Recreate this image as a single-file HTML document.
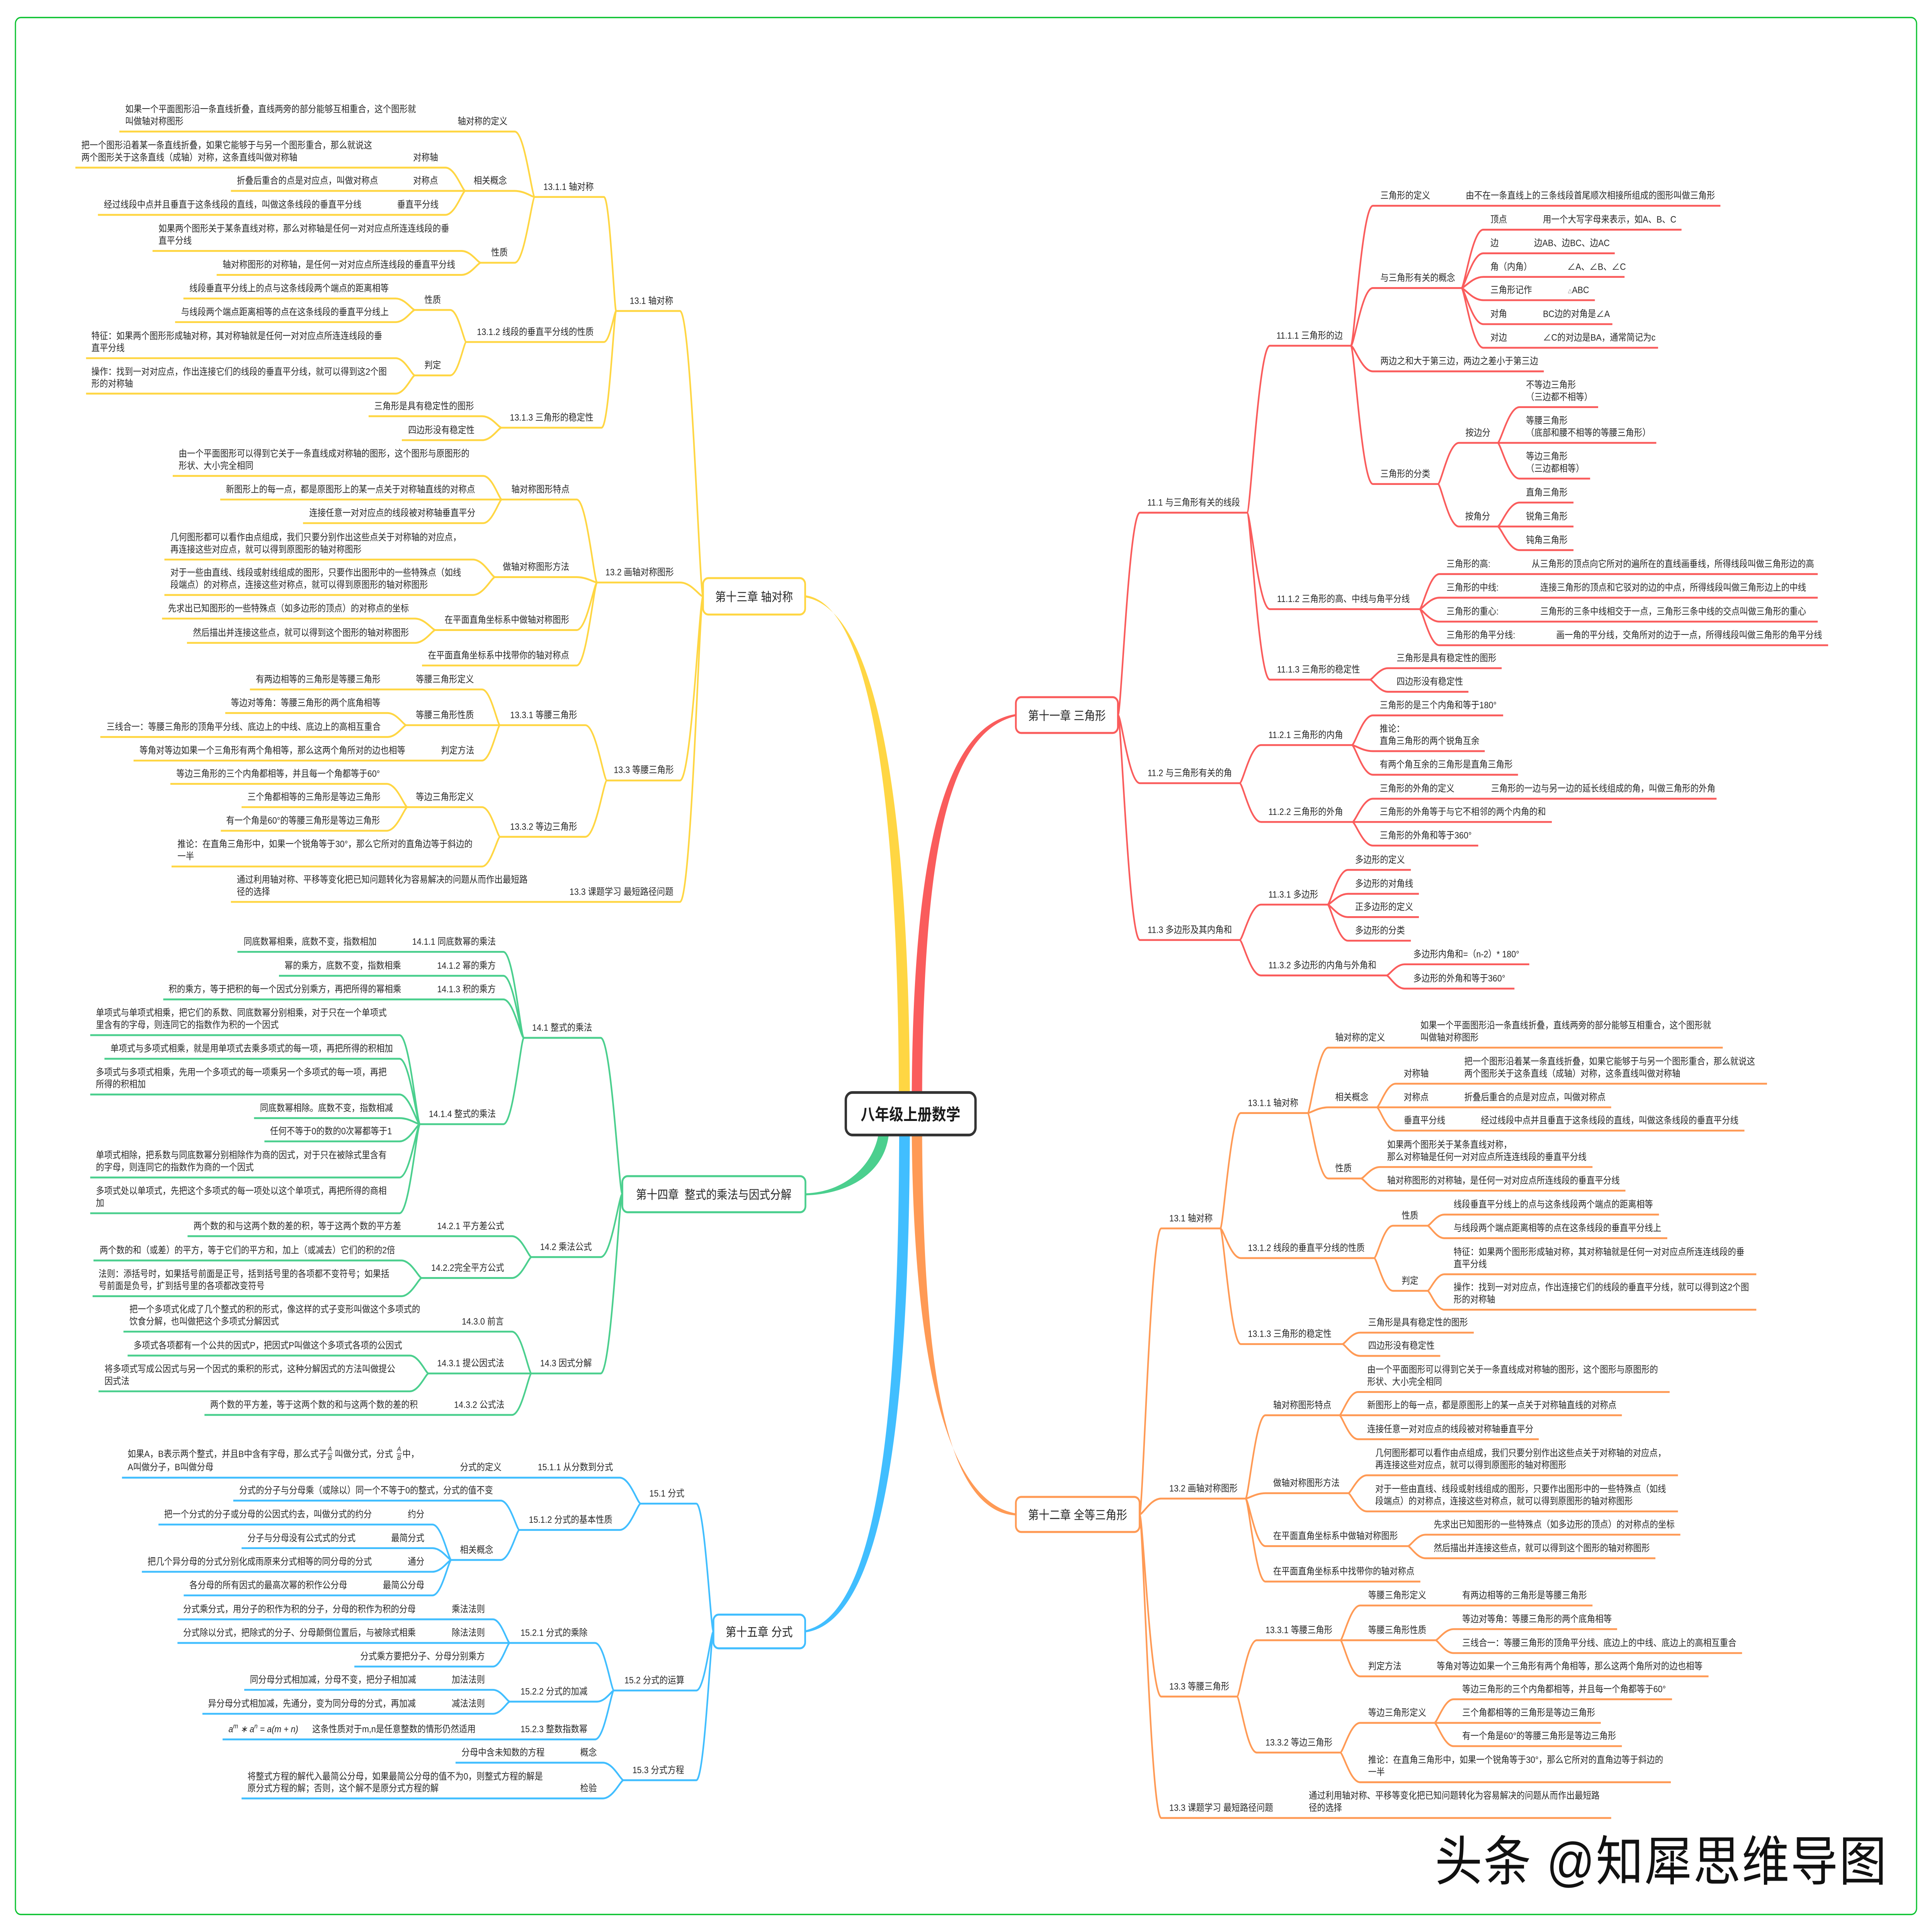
<!DOCTYPE html>
<html lang="zh"><head><meta charset="utf-8"><title>八年级上册数学</title>
<style>
html,body{margin:0;padding:0;background:#fff;width:100%;height:100%;overflow:hidden}
svg{display:block;width:100vw;height:100vh}
text{font-family:"Liberation Sans","Noto Sans CJK SC",sans-serif;font-size:28px;fill:#262626}
.l{fill:none;stroke-width:5.5}
.ch{font-size:36px;text-anchor:middle}
.box{fill:#fff;stroke-width:6}
</style></head><body>
<svg xmlns="http://www.w3.org/2000/svg" viewBox="0 0 6510 5728" preserveAspectRatio="none">
<rect width="6510" height="5728" fill="#fff"/>
<rect x="52" y="52" width="6406" height="5624" rx="18" fill="none" stroke="#0AC22F" stroke-width="4"/>

<!-- main branches -->
<path fill="#FFD643" d="M3029 3300C3029 2350 2930 1790 2713 1765L2713 1771C2950 1805 3066 2350 3066 3300Z"/>
<path fill="#FA5C5C" d="M3072 3300C3072 2500 3190 2150 3423 2117L3423 2123C3200 2170 3107 2500 3107 3300Z"/>
<path fill="#4BCF8E" d="M2962 3350C2950 3450 2850 3535 2714 3538L2714 3544C2870 3540 2990 3470 2996 3350Z"/>
<path fill="#41BEFF" d="M3030 3300C3030 4200 2960 4790 2711 4834L2711 4840C2980 4810 3066 4200 3066 3300Z"/>
<path fill="#FF9A55" d="M3072 3300C3072 4000 3180 4450 3423 4487L3423 4493C3170 4480 3107 4000 3107 3300Z"/>

<!-- yellow -->
<path class="l" stroke="#FFD643" d="M2076 922H2291c39 0 66 846 78 846M2012 1727H2291c39 0 66 41 78 41M2045 2314H2291c39 0 66-546 78-546M778 2674H2291c39 0 66-906 78-906
M1802 584H2035c20 0 35 338 41 338M1571 1014H2035c20 0 35-92 41-92M1690 1268H2027c25 0 42-346 49-346
M402 390H1734c34 0 58 194 68 194M1568 566H1734c34 0 58 18 68 18M1620 779H1734c34 0 58-195 68-195
M254 497H1501c33 0 57 69 67 69M778 566H1568M330 637H1501c33 0 57-71 67-71
M514 744H1555c32 0 55 35 65 35M730 815H1555c32 0 55-36 65-36
M1398 919H1517c27 0 46 95 54 95M1398 1113H1517c27 0 46-99 54-99
M618 885H1333c32 0 55 34 65 34M590 955H1333c32 0 55-36 65-36M290 1062H1333c32 0 55 51 65 51M290 1167H1333c32 0 55-54 65-54
M1242 1234H1625c32 0 55 34 65 34M1354 1305H1625c32 0 55-37 65-37
M1691 1481H1943c34 0 59 246 69 246M1668 1711H1943c34 0 59 16 69 16M1467 1868H1943c34 0 59-141 69-141M1422 1973H1943c34 0 59-246 69-246
M582 1411H1628c31 0 54 70 63 70M742 1481H1691M1021 1551H1628c31 0 54-70 63-70
M554 1659H1593c37 0 64 52 75 52M554 1764H1593c37 0 64-53 75-53
M546 1834H1398c34 0 59 34 69 34M630 1906H1398c34 0 59-38 69-38
M1685 2150H1972c36 0 62 164 73 164M1685 2481H1972c36 0 62-167 73-167
M842 2044H1624c30 0 52 106 61 106M1369 2150H1685M450 2255H1624c30 0 52-105 61-105
M759 2114H1306c31 0 54 36 63 36M338 2185H1306c31 0 54-35 63-35
M1373 2393H1624c30 0 52 88 61 88M578 2569H1624c30 0 52-88 61-88
M574 2324H1303c35 0 60 69 70 69M814 2393H1373M744 2463H1303c35 0 60-70 70-70"/>

<!-- green -->
<path class="l" stroke="#4BCF8E" d="M1765 3077H2024c36 0 62 463 73 463M1791 3727H2024c36 0 62-187 73-187M1791 4072H2024c36 0 62-532 73-532
M800 2822H1696c34 0 59 255 69 255M940 2893H1696c34 0 59 184 69 184M550 2963H1696c34 0 59 114 69 114M1415 3333H1696c34 0 59-256 69-256
M304 3069H1346c34 0 59 264 69 264M352 3139H1346c34 0 59 194 69 194M304 3245H1346c34 0 59 88 69 88M856 3315H1346c34 0 59 18 69 18M891 3384H1346c34 0 59-51 69-51M304 3491H1346c34 0 59-158 69-158M304 3597H1346c34 0 59-264 69-264
M632 3665H1725c33 0 56 62 66 62M1421 3789H1725c33 0 56-62 66-62
M315 3737H1352c34 0 59 52 69 52M312 3843H1352c34 0 59-54 69-54
M416 3948H1725c33 0 56 124 66 124M1444 4072H1791M689 4195H1725c33 0 56-123 66-123
M430 4019H1381c31 0 54 53 63 53M332 4125H1381c31 0 54-53 63-53"/>

<!-- blue -->
<path class="l" stroke="#41BEFF" d="M2159 4458H2346c29 0 49 379 58 379M2069 5012H2346c29 0 49-175 58-175M2101 5278H2346c29 0 49-441 58-441
M411 4381H2088c35 0 60 77 71 77M1750 4536H2088c35 0 60-78 71-78
M786 4449H1687c31 0 54 87 63 87M1521 4625H1687c31 0 54-89 63-89
M534 4520H1457c32 0 54 105 64 105M814 4590H1457c32 0 54 35 64 35M478 4660H1457c32 0 54-35 64-35M619 4730H1457c32 0 54-105 64-105
M1718 4871H2005c32 0 54 141 64 141M1718 5045H2012c28 0 49-33 57-33M750 5157H2005c32 0 54-145 64-145
M598 4801H1661c28 0 48 70 57 70M598 4871H1718M1194 4941H1661c28 0 48-70 57-70
M823 5010H1661c28 0 48 35 57 35M682 5081H1661c28 0 48-36 57-36
M1535 5226H2031c35 0 60 52 70 52M814 5332H2031c35 0 60-54 70-54"/>

<!-- red -->
<path class="l" stroke="#FA5C5C" d="M4202 1520H3841c-37 0-63 600-74 600M4177 2322H3841c-37 0-63-202-74-202M4177 2787H3841c-37 0-63-667-74-667
M4552 1025H4279c-38 0-65 495-77 495M4783 1806H4279c-38 0-65-286-77-286M4616 2015H4279c-38 0-65-495-77-495
M5797 610H4626c-37 0-63 415-74 415M4924 854H4626c-37 0-63 171-74 171M5202 1101H4626c-37 0-63-76-74-76M4845 1435H4626c-37 0-63-410-74-410
M5666 681H4998c-37 0-63 173-74 173M5441 751H4998c-37 0-63 103-74 103M5474 821H4998c-37 0-63 33-74 33M5374 890H4998c-37 0-63-36-74-36M5433 961H4998c-37 0-63-107-74-107M5587 1031H4998c-37 0-63-177-74-177
M5046 1313H4916c-35 0-60 122-71 122M5046 1561H4916c-35 0-60-126-71-126
M5385 1207H5120c-37 0-63 106-74 106M5581 1313H5046M5358 1419H5120c-37 0-63-106-74-106
M5302 1490H5120c-37 0-63 71-74 71M5302 1561H5046M5302 1631H5120c-37 0-63-70-74-70
M6125 1702H4850c-33 0-57 104-67 104M6125 1772H4850c-33 0-57 34-67 34M6125 1843H4850c-33 0-57-37-67-37M6160 1913H4850c-33 0-57-107-67-107
M5060 1981H4677c-30 0-52 34-61 34M4948 2051H4677c-30 0-52-36-61-36
M4555 2209H4249c-36 0-61 113-72 113M4557 2437H4249c-36 0-61-115-72-115
M5065 2121H4626c-35 0-60 88-71 88M5003 2227H4626c-35 0-60-18-71-18M5115 2297H4626c-35 0-60-88-71-88
M5784 2368H4626c-34 0-59 69-69 69M5229 2437H4557M4981 2507H4626c-34 0-59-70-69-70
M4473 2682H4249c-36 0-61 105-72 105M4672 2892H4249c-36 0-61-105-72-105
M4754 2579H4542c-34 0-59 103-69 103M4781 2650H4542c-34 0-59 32-69 32M4781 2719H4542c-34 0-59-37-69-37M4754 2789H4542c-34 0-59-107-69-107
M5153 2859H4733c-30 0-52 33-61 33M5103 2931H4733c-30 0-52-39-61-39"/>

<!-- orange -->
<path class="l" stroke="#FF9A55" d="M4112 3642H3913c-36 0-62 848-73 848M4197 4443H3913c-36 0-62 47-73 47M4168 5030H3913c-36 0-62-540-73-540M5429 5390H3913c-36 0-62-900-73-900
M4406 3300H4181c-34 0-59 342-69 342M4630 3730H4181c-34 0-59-88-69-88M4523 3985H4181c-34 0-59-343-69-343
M5805 3106H4476c-35 0-60 194-70 194M4639 3283H4476c-35 0-60 17-70 17M4586 3494H4476c-35 0-60-194-70-194
M5954 3213H4703c-32 0-54 70-64 70M5429 3283H4639M5878 3352H4703c-32 0-54-69-64-69
M5366 3460H4650c-32 0-54 34-64 34M5477 3530H4650c-32 0-54-36-64-36
M4810 3634H4694c-32 0-54 96-64 96M4810 3827H4694c-32 0-54-97-64-97
M5590 3601H4867c-28 0-48 33-57 33M5618 3671H4867c-28 0-48-37-57-37
M5918 3778H4867c-28 0-48 49-57 49M5918 3883H4867c-28 0-48-56-57-56
M4966 3951H4583c-30 0-51 34-60 34M4853 4020H4583c-30 0-51-35-60-35
M4513 4196H4264c-33 0-57 247-67 247M4543 4427H4264c-33 0-57 16-67 16M4744 4584H4264c-33 0-57-141-67-141M4786 4689H4264c-33 0-57-246-67-246
M5626 4127H4576c-31 0-54 69-63 69M5465 4196H4513M5185 4267H4576c-31 0-54-71-63-71
M5654 4374H4606c-31 0-54 53-63 53M5654 4481H4606c-31 0-54-54-63-54
M5662 4550H4804c-30 0-51 34-60 34M5578 4620H4804c-30 0-51-36-60-36
M4516 4863H4235c-33 0-57 167-67 167M4516 5196H4235c-33 0-57-166-67-166
M5366 4760H4583c-33 0-57 103-67 103M4837 4863H4516M5757 4970H4583c-33 0-57-107-67-107
M5449 4830H4898c-30 0-52 33-61 33M5870 4901H4898c-30 0-52-38-61-38
M4833 5108H4583c-33 0-57 88-67 88M5630 5284H4583c-33 0-57-88-67-88
M5634 5038H4898c-32 0-55 70-65 70M5394 5108H4833M5465 5177H4898c-32 0-55-69-65-69"/>

<!-- boxes -->
<rect class="box" stroke="#FFD643" x="2369" y="1714" width="344" height="108" rx="18"/>
<rect class="box" stroke="#FA5C5C" x="3423" y="2067" width="344" height="106" rx="18"/>
<rect class="box" stroke="#4BCF8E" x="2097" y="3487" width="617" height="107" rx="18"/>
<rect class="box" stroke="#41BEFF" x="2404" y="4787" width="309" height="100" rx="18"/>
<rect class="box" stroke="#FF9A55" x="3423" y="4438" width="417" height="104" rx="18"/>
<rect x="2850" y="3239" width="437" height="126" rx="22" fill="#fff" stroke="#333" stroke-width="8"/>
<text x="3068" y="3321" text-anchor="middle" style="font-size:48px;font-weight:bold;fill:#1a1a1a">八年级上册数学</text>
<text class="ch" x="2541" y="1782">第十三章 轴对称</text>
<text class="ch" x="3595" y="2134">第十一章 三角形</text>
<text class="ch" x="2405" y="3554">第十四章&#160;&#160;整式的乘法与因式分解</text>
<text class="ch" x="2558" y="4851">第十五章 分式</text>
<text class="ch" x="3631" y="4504">第十二章 全等三角形</text>

<!-- chapter 13 text -->
<text x="2122" y="901">13.1 轴对称</text>
<text x="1831" y="563">13.1.1 轴对称</text>
<text x="422" y="333">如果一个平面图形沿一条直线折叠，直线两旁的部分能够互相重合，这个图形就</text>
<text x="422" y="369">叫做轴对称图形</text>
<text x="1542" y="369">轴对称的定义</text>
<text x="274" y="440">把一个图形沿着某一条直线折叠，如果它能够于与另一个图形重合，那么就说这</text>
<text x="274" y="476">两个图形关于这条直线（成轴）对称，这条直线叫做对称轴</text>
<text x="1392" y="476">对称轴</text>
<text x="798" y="545">折叠后重合的点是对应点，叫做对称点</text>
<text x="1392" y="545">对称点</text>
<text x="1596" y="545">相关概念</text>
<text x="350" y="616">经过线段中点并且垂直于这条线段的直线，叫做这条线段的垂直平分线</text>
<text x="1338" y="616">垂直平分线</text>
<text x="534" y="687">如果两个图形关于某条直线对称，那么对称轴是任何一对对应点所连连线段的垂</text>
<text x="534" y="723">直平分线</text>
<text x="750" y="794">轴对称图形的对称轴，是任何一对对应点所连线段的垂直平分线</text>
<text x="1655" y="758">性质</text>
<text x="1607" y="993">13.1.2 线段的垂直平分线的性质</text>
<text x="1430" y="898">性质</text>
<text x="638" y="864">线段垂直平分线上的点与这条线段两个端点的距离相等</text>
<text x="610" y="934">与线段两个端点距离相等的点在这条线段的垂直平分线上</text>
<text x="1430" y="1092">判定</text>
<text x="308" y="1005">特征：如果两个图形形成轴对称，其对称轴就是任何一对对应点所连连线段的垂</text>
<text x="308" y="1041">直平分线</text>
<text x="308" y="1111">操作：找到一对对应点，作出连接它们的线段的垂直平分线，就可以得到这2个图</text>
<text x="308" y="1147">形的对称轴</text>
<text x="1718" y="1247">13.1.3 三角形的稳定性</text>
<text x="1261" y="1213">三角形是具有稳定性的图形</text>
<text x="1375" y="1284">四边形没有稳定性</text>
<text x="2040" y="1706">13.2 画轴对称图形</text>
<text x="1723" y="1460">轴对称图形特点</text>
<text x="602" y="1354">由一个平面图形可以得到它关于一条直线成对称轴的图形，这个图形与原图形的</text>
<text x="602" y="1390">形状、大小完全相同</text>
<text x="761" y="1460">新图形上的每一点，都是原图形上的某一点关于对称轴直线的对称点</text>
<text x="1042" y="1530">连接任意一对对应点的线段被对称轴垂直平分</text>
<text x="1694" y="1690">做轴对称图形方法</text>
<text x="574" y="1602">几何图形都可以看作由点组成，我们只要分别作出这些点关于对称轴的对应点，</text>
<text x="574" y="1638">再连接这些对应点，就可以得到原图形的轴对称图形</text>
<text x="574" y="1707">对于一些由直线、线段或射线组成的图形，只要作出图形中的一些特殊点（如线</text>
<text x="574" y="1743">段端点）的对称点，连接这些对称点，就可以得到原图形的轴对称图形</text>
<text x="1498" y="1847">在平面直角坐标系中做轴对称图形</text>
<text x="566" y="1813">先求出已知图形的一些特殊点（如多边形的顶点）的对称点的坐标</text>
<text x="650" y="1885">然后描出并连接这些点，就可以得到这个图形的轴对称图形</text>
<text x="1442" y="1952">在平面直角坐标系中找带你的轴对称点</text>
<text x="2068" y="2292">13.3 等腰三角形</text>
<text x="1719" y="2129">13.3.1 等腰三角形</text>
<text x="862" y="2023">有两边相等的三角形是等腰三角形</text>
<text x="1401" y="2023">等腰三角形定义</text>
<text x="1401" y="2129">等腰三角形性质</text>
<text x="778" y="2093">等边对等角：等腰三角形的两个底角相等</text>
<text x="359" y="2164">三线合一：等腰三角形的顶角平分线、底边上的中线、底边上的高相互重合</text>
<text x="470" y="2234">等角对等边如果一个三角形有两个角相等，那么这两个角所对的边也相等</text>
<text x="1486" y="2234">判定方法</text>
<text x="1719" y="2460">13.3.2 等边三角形</text>
<text x="1401" y="2372">等边三角形定义</text>
<text x="594" y="2303">等边三角形的三个内角都相等，并且每一个角都等于60°</text>
<text x="834" y="2372">三个角都相等的三角形是等边三角形</text>
<text x="762" y="2442">有一个角是60°的等腰三角形是等边三角形</text>
<text x="598" y="2512">推论：在直角三角形中，如果一个锐角等于30°，那么它所对的直角边等于斜边的</text>
<text x="598" y="2548">一半</text>
<text x="798" y="2617">通过利用轴对称、平移等变化把已知问题转化为容易解决的问题从而作出最短路</text>
<text x="798" y="2653">径的选择</text>
<text x="1919" y="2653">13.3 课题学习 最短路径问题</text>

<!-- chapter 14 text -->
<text x="1793" y="3056">14.1 整式的乘法</text>
<text x="821" y="2801">同底数幂相乘，底数不变，指数相加</text>
<text x="1389" y="2801">14.1.1 同底数幂的乘法</text>
<text x="959" y="2872">幂的乘方，底数不变，指数相乘</text>
<text x="1473" y="2872">14.1.2 幂的乘方</text>
<text x="568" y="2942">积的乘方，等于把积的每一个因式分别乘方，再把所得的幂相乘</text>
<text x="1473" y="2942">14.1.3 积的乘方</text>
<text x="1445" y="3312">14.1.4 整式的乘法</text>
<text x="323" y="3012">单项式与单项式相乘，把它们的系数、同底数幂分别相乘，对于只在一个单项式</text>
<text x="323" y="3048">里含有的字母，则连同它的指数作为积的一个因式</text>
<text x="372" y="3118">单项式与多项式相乘，就是用单项式去乘多项式的每一项，再把所得的积相加</text>
<text x="323" y="3188">多项式与多项式相乘，先用一个多项式的每一项乘另一个多项式的每一项，再把</text>
<text x="323" y="3224">所得的积相加</text>
<text x="876" y="3294">同底数幂相除。底数不变，指数相减</text>
<text x="910" y="3363">任何不等于0的数的0次幂都等于1</text>
<text x="323" y="3434">单项式相除，把系数与同底数幂分别相除作为商的因式，对于只在被除式里含有</text>
<text x="323" y="3470">的字母，则连同它的指数作为商的一个因式</text>
<text x="323" y="3540">多项式处以单项式，先把这个多项式的每一项处以这个单项式，再把所得的商相</text>
<text x="323" y="3576">加</text>
<text x="1820" y="3706">14.2 乘法公式</text>
<text x="652" y="3644">两个数的和与这两个数的差的积，等于这两个数的平方差</text>
<text x="1473" y="3644">14.2.1 平方差公式</text>
<text x="1453" y="3768">14.2.2完全平方公式</text>
<text x="336" y="3716">两个数的和（或差）的平方，等于它们的平方和，加上（或减去）它们的积的2倍</text>
<text x="332" y="3786">法则：添括号时，如果括号前面是正号，括到括号里的各项都不变符号；如果括</text>
<text x="332" y="3822">号前面是负号，扩到括号里的各项都改变符号</text>
<text x="1820" y="4051">14.3 因式分解</text>
<text x="436" y="3891">把一个多项式化成了几个整式的积的形式，像这样的式子变形叫做这个多项式的</text>
<text x="436" y="3927">饮食分解，也叫做把这个多项式分解因式</text>
<text x="1556" y="3927">14.3.0 前言</text>
<text x="1473" y="4051">14.3.1 提公因式法</text>
<text x="450" y="3998">多项式各项都有一个公共的因式P，把因式P叫做这个多项式各项的公因式</text>
<text x="352" y="4068">将多项式写成公因式与另一个因式的乘积的形式，这种分解因式的方法叫做提公</text>
<text x="352" y="4104">因式法</text>
<text x="708" y="4174">两个数的平方差，等于这两个数的和与这两个数的差的积</text>
<text x="1530" y="4174">14.3.2 公式法</text>

<!-- chapter 15 text -->
<text x="2188" y="4437">15.1 分式</text>
<text x="430" y="4320">如果A，B表示两个整式，并且B中含有字母，那么式子</text>
<text x="1105" y="4303" style="font-size:20px;font-style:italic">A</text>
<text x="1105" y="4328" style="font-size:20px;font-style:italic">B</text>
<path d="M1103 4310H1121M1336 4310H1354" stroke="#262626" stroke-width="1.5"/>
<text x="1128" y="4320">叫做分式，分式</text>
<text x="1338" y="4303" style="font-size:20px;font-style:italic">A</text>
<text x="1338" y="4328" style="font-size:20px;font-style:italic">B</text>
<text x="1356" y="4320">中，</text>
<text x="430" y="4359">A叫做分子，B叫做分母</text>
<text x="1550" y="4359">分式的定义</text>
<text x="1812" y="4359">15.1.1 从分数到分式</text>
<text x="1782" y="4515">15.1.2 分式的基本性质</text>
<text x="806" y="4428">分式的分子与分母乘（或除以）同一个不等于0的整式，分式的值不变</text>
<text x="1550" y="4604">相关概念</text>
<text x="553" y="4499">把一个分式的分子或分母的公因式约去，叫做分式的约分</text>
<text x="1374" y="4499">约分</text>
<text x="834" y="4569">分子与分母没有公式式的分式</text>
<text x="1318" y="4569">最简分式</text>
<text x="497" y="4639">把几个异分母的分式分别化成雨原来分式相等的同分母的分式</text>
<text x="1374" y="4639">通分</text>
<text x="638" y="4709">各分母的所有因式的最高次幂的积作公分母</text>
<text x="1290" y="4709">最简公分母</text>
<text x="2104" y="4991">15.2 分式的运算</text>
<text x="1754" y="4850">15.2.1 分式的乘除</text>
<text x="617" y="4780">分式乘分式，用分子的积作为积的分子，分母的积作为积的分母</text>
<text x="1522" y="4780">乘法法则</text>
<text x="617" y="4850">分式除以分式，把除式的分子、分母颠倒位置后，与被除式相乘</text>
<text x="1522" y="4850">除法法则</text>
<text x="1214" y="4920">分式乘方要把分子、分母分别乘方</text>
<text x="1754" y="5024">15.2.2 分式的加减</text>
<text x="842" y="4989">同分母分式相加减，分母不变，把分子相加减</text>
<text x="1522" y="4989">加法法则</text>
<text x="701" y="5060">异分母分式相加减，先通分，变为同分母的分式，再加减</text>
<text x="1522" y="5060">减法法则</text>
<text x="1754" y="5136">15.2.3 整数指数幂</text>
<text x="770" y="5136" style="font-style:italic">a<tspan dy="-12" style="font-size:20px">m</tspan><tspan dy="12"> ∗ a</tspan><tspan dy="-12" style="font-size:20px">n</tspan><tspan dy="12"> = a(m + n)</tspan></text>
<text x="1052" y="5136">这条性质对于m,n是任意整数的情形仍然适用</text>
<text x="2131" y="5257">15.3 分式方程</text>
<text x="1555" y="5205">分母中含未知数的方程</text>
<text x="1955" y="5205">概念</text>
<text x="834" y="5276">将整式方程的解代入最简公分母，如果最简公分母的值不为0，则整式方程的解是</text>
<text x="834" y="5311">原分式方程的解；否则，这个解不是原分式方程的解</text>
<text x="1955" y="5311">检验</text>

<!-- chapter 11 text -->
<text x="3866" y="1499">11.1 与三角形有关的线段</text>
<text x="4301" y="1004">11.1.1 三角形的边</text>
<text x="4651" y="589">三角形的定义</text>
<text x="4939" y="589">由不在一条直线上的三条线段首尾顺次相接所组成的图形叫做三角形</text>
<text x="4651" y="833">与三角形有关的概念</text>
<text x="5022" y="660">顶点</text><text x="5199" y="660">用一个大写字母来表示，如A、B、C</text>
<text x="5022" y="730">边</text><text x="5169" y="730">边AB、边BC、边AC</text>
<text x="5022" y="800">角（内角）</text><text x="5281" y="800">∠A、∠B、∠C</text>
<text x="5022" y="869">三角形记作</text><text x="5283" y="869"><tspan style="font-size:14px">△</tspan>ABC</text>
<text x="5022" y="940">对角</text><text x="5199" y="940">BC边的对角是∠A</text>
<text x="5022" y="1010">对边</text><text x="5199" y="1010">∠C的对边是BA，通常简记为c</text>
<text x="4651" y="1080">两边之和大于第三边，两边之差小于第三边</text>
<text x="4651" y="1414">三角形的分类</text>
<text x="4938" y="1292">按边分</text>
<text x="5142" y="1150">不等边三角形</text>
<text x="5142" y="1186">（三边都不相等）</text>
<text x="5142" y="1256">等腰三角形</text>
<text x="5142" y="1292">（底部和腰不相等的等腰三角形）</text>
<text x="5142" y="1362">等边三角形</text>
<text x="5142" y="1398">（三边都相等）</text>
<text x="4937" y="1540">按角分</text>
<text x="5142" y="1469">直角三角形</text>
<text x="5142" y="1540">锐角三角形</text>
<text x="5142" y="1610">钝角三角形</text>
<text x="4303" y="1785">11.1.2 三角形的高、中线与角平分线</text>
<text x="4874" y="1681">三角形的高:</text><text x="5161" y="1681">从三角形的顶点向它所对的遍所在的直线画垂线，所得线段叫做三角形边的高</text>
<text x="4874" y="1751">三角形的中线:</text><text x="5190" y="1751">连接三角形的顶点和它驳对的边的中点，所得线段叫做三角形边上的中线</text>
<text x="4874" y="1822">三角形的重心:</text><text x="5190" y="1822">三角形的三条中线相交于一点，三角形三条中线的交点叫做三角形的重心</text>
<text x="4874" y="1892">三角形的角平分线:</text><text x="5244" y="1892">画一角的平分线，交角所对的边于一点，所得线段叫做三角形的角平分线</text>
<text x="4303" y="1994">11.1.3 三角形的稳定性</text>
<text x="4706" y="1960">三角形是具有稳定性的图形</text>
<text x="4706" y="2030">四边形没有稳定性</text>
<text x="3867" y="2301">11.2 与三角形有关的角</text>
<text x="4274" y="2188">11.2.1 三角形的内角</text>
<text x="4649" y="2100">三角形的是三个内角和等于180°</text>
<text x="4649" y="2170">推论：</text>
<text x="4649" y="2206">直角三角形的两个锐角互余</text>
<text x="4649" y="2276">有两个角互余的三角形是直角三角形</text>
<text x="4274" y="2416">11.2.2 三角形的外角</text>
<text x="4649" y="2347">三角形的外角的定义</text><text x="5024" y="2347">三角形的一边与另一边的延长线组成的角，叫做三角形的外角</text>
<text x="4649" y="2416">三角形的外角等于与它不相邻的两个内角的和</text>
<text x="4649" y="2486">三角形的外角和等于360°</text>
<text x="3867" y="2766">11.3 多边形及其内角和</text>
<text x="4274" y="2661">11.3.1 多边形</text>
<text x="4566" y="2558">多边形的定义</text>
<text x="4566" y="2629">多边形的对角线</text>
<text x="4566" y="2698">正多边形的定义</text>
<text x="4566" y="2768">多边形的分类</text>
<text x="4274" y="2871">11.3.2 多边形的内角与外角和</text>
<text x="4762" y="2838">多边形内角和=（n-2）* 180°</text>
<text x="4762" y="2910">多边形的外角和等于360°</text>

<!-- chapter 12 text -->
<text x="3940" y="3621">13.1 轴对称</text>
<text x="4205" y="3279">13.1.1 轴对称</text>
<text x="4499" y="3085">轴对称的定义</text>
<text x="4786" y="3049">如果一个平面图形沿一条直线折叠，直线两旁的部分能够互相重合，这个图形就</text>
<text x="4786" y="3085">叫做轴对称图形</text>
<text x="4499" y="3262">相关概念</text>
<text x="4730" y="3192">对称轴</text>
<text x="4934" y="3156">把一个图形沿着某一条直线折叠，如果它能够于与另一个图形重合，那么就说这</text>
<text x="4934" y="3192">两个图形关于这条直线（成轴）对称，这条直线叫做对称轴</text>
<text x="4730" y="3262">对称点</text><text x="4934" y="3262">折叠后重合的点是对应点，叫做对称点</text>
<text x="4730" y="3331">垂直平分线</text><text x="4990" y="3331">经过线段中点并且垂直于这条线段的直线，叫做这条线段的垂直平分线</text>
<text x="4499" y="3473">性质</text>
<text x="4674" y="3403">如果两个图形关于某条直线对称，</text>
<text x="4674" y="3439">那么对称轴是任何一对对应点所连连线段的垂直平分线</text>
<text x="4674" y="3509">轴对称图形的对称轴，是任何一对对应点所连线段的垂直平分线</text>
<text x="4205" y="3709">13.1.2 线段的垂直平分线的性质</text>
<text x="4723" y="3613">性质</text>
<text x="4898" y="3580">线段垂直平分线上的点与这条线段两个端点的距离相等</text>
<text x="4898" y="3650">与线段两个端点距离相等的点在这条线段的垂直平分线上</text>
<text x="4723" y="3806">判定</text>
<text x="4898" y="3721">特征：如果两个图形形成轴对称，其对称轴就是任何一对对应点所连连线段的垂</text>
<text x="4898" y="3757">直平分线</text>
<text x="4898" y="3826">操作：找到一对对应点，作出连接它们的线段的垂直平分线，就可以得到这2个图</text>
<text x="4898" y="3862">形的对称轴</text>
<text x="4205" y="3964">13.1.3 三角形的稳定性</text>
<text x="4610" y="3930">三角形是具有稳定性的图形</text>
<text x="4610" y="3999">四边形没有稳定性</text>
<text x="3940" y="4422">13.2 画轴对称图形</text>
<text x="4290" y="4175">轴对称图形特点</text>
<text x="4607" y="4070">由一个平面图形可以得到它关于一条直线成对称轴的图形，这个图形与原图形的</text>
<text x="4607" y="4106">形状、大小完全相同</text>
<text x="4607" y="4175">新图形上的每一点，都是原图形上的某一点关于对称轴直线的对称点</text>
<text x="4607" y="4246">连接任意一对对应点的线段被对称轴垂直平分</text>
<text x="4290" y="4406">做轴对称图形方法</text>
<text x="4634" y="4317">几何图形都可以看作由点组成，我们只要分别作出这些点关于对称轴的对应点，</text>
<text x="4634" y="4353">再连接这些对应点，就可以得到原图形的轴对称图形</text>
<text x="4634" y="4424">对于一些由直线、线段或射线组成的图形，只要作出图形中的一些特殊点（如线</text>
<text x="4634" y="4460">段端点）的对称点，连接这些对称点，就可以得到原图形的轴对称图形</text>
<text x="4290" y="4563">在平面直角坐标系中做轴对称图形</text>
<text x="4831" y="4529">先求出已知图形的一些特殊点（如多边形的顶点）的对称点的坐标</text>
<text x="4831" y="4599">然后描出并连接这些点，就可以得到这个图形的轴对称图形</text>
<text x="4290" y="4668">在平面直角坐标系中找带你的轴对称点</text>
<text x="3940" y="5009">13.3 等腰三角形</text>
<text x="4264" y="4842">13.3.1 等腰三角形</text>
<text x="4610" y="4739">等腰三角形定义</text><text x="4927" y="4739">有两边相等的三角形是等腰三角形</text>
<text x="4610" y="4842">等腰三角形性质</text>
<text x="4927" y="4809">等边对等角：等腰三角形的两个底角相等</text>
<text x="4927" y="4880">三线合一：等腰三角形的顶角平分线、底边上的中线、底边上的高相互重合</text>
<text x="4610" y="4949">判定方法</text><text x="4841" y="4949">等角对等边如果一个三角形有两个角相等，那么这两个角所对的边也相等</text>
<text x="4264" y="5175">13.3.2 等边三角形</text>
<text x="4610" y="5087">等边三角形定义</text>
<text x="4927" y="5017">等边三角形的三个内角都相等，并且每一个角都等于60°</text>
<text x="4927" y="5087">三个角都相等的三角形是等边三角形</text>
<text x="4927" y="5156">有一个角是60°的等腰三角形是等边三角形</text>
<text x="4610" y="5227">推论：在直角三角形中，如果一个锐角等于30°，那么它所对的直角边等于斜边的</text>
<text x="4610" y="5263">一半</text>
<text x="3940" y="5369">13.3 课题学习 最短路径问题</text>
<text x="4410" y="5333">通过利用轴对称、平移等变化把已知问题转化为容易解决的问题从而作出最短路</text>
<text x="4410" y="5369">径的选择</text>

<!-- watermark -->
<text x="4835" y="5575" textLength="1522" lengthAdjust="spacing" style="font-size:160px;fill:#111">头条 @知犀思维导图</text>
</svg>
</body></html>
